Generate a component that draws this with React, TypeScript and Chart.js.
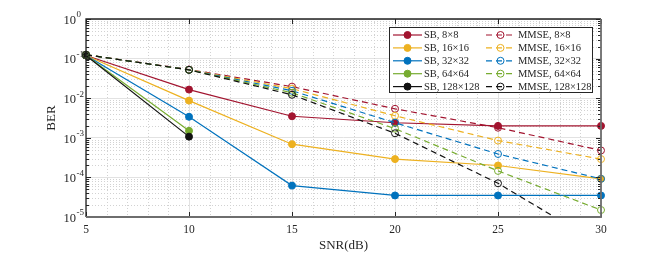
import React, { useEffect, useRef } from "react";
import { Chart, registerables } from "chart.js";
Chart.register(...registerables);

const snr = [5, 10, 15, 20, 25, 30];
const sb8 = [0.12, 0.0165, 0.0035, 0.0024, 0.002, 0.002];
const sb16 = [0.12, 0.0087, 0.00069, 0.00029, 0.0002, 0.000092];
const sb32 = [0.12, 0.0034, 0.000062, 0.000035, 0.000035, 0.000035];
const sb64 = [0.12, 0.0015];
const sb128 = [0.12, 0.00107];
const mmse8 = [0.125, 0.053, 0.0196, 0.0054, 0.0018, 0.00048];
const mmse16 = [0.125, 0.052, 0.0174, 0.0036, 0.00085, 0.00029];
const mmse32 = [0.125, 0.052, 0.0154, 0.0024, 0.00039, 0.000092];
const mmse64 = [0.125, 0.052, 0.0137, 0.0017, 0.000146, 0.000015];
const mmse128 = [0.125, 0.052, 0.0122, 0.0013, 0.000071, 0.000002];

const sbLabels = ["SB, 8×8", "SB, 16×16", "SB, 32×32", "SB, 64×64", "SB, 128×128"];
const mmseLabels = ["MMSE, 8×8", "MMSE, 16×16", "MMSE, 32×32", "MMSE, 64×64", "MMSE, 128×128"];
const colors = ["#A2142F", "#EDB120", "#0072BD", "#77AC30", "#111111"];
const xTicks = [5, 10, 15, 20, 25, 30];
const yDecades = [1e-5, 1e-4, 1e-3, 1e-2, 1e-1, 1];
const yExps = ["-5", "-4", "-3", "-2", "-1", "0"];

const SERIF = "'Liberation Serif', 'Times New Roman', serif";
const DASH = [6, 4];

function pts(vals: number[]) {
  return vals.map((v, j) => ({ x: snr[j], y: v }));
}

const decor = {
  id: "decor",
  beforeDatasetsDraw(chart: any) {
    const { ctx, chartArea: a, scales } = chart;
    const xs = scales.x;
    const ys = scales.y;
    ctx.save();
    ctx.strokeStyle = "#d2d2d2";
    ctx.lineWidth = 1;
    ctx.setLineDash([1, 2]);
    ctx.beginPath();
    for (let e = -5; e < 0; e++) {
      for (let k = 2; k <= 9; k++) {
        const y = Math.round(ys.getPixelForValue(k * Math.pow(10, e))) + 0.5;
        ctx.moveTo(a.left, y);
        ctx.lineTo(a.right, y);
      }
    }
    for (let x = 6; x < 30; x++) {
      if (x % 5 === 0) continue;
      const px = Math.round(xs.getPixelForValue(x)) + 0.5;
      ctx.moveTo(px, a.top);
      ctx.lineTo(px, a.bottom);
    }
    ctx.stroke();
    ctx.restore();
  },
  afterDraw(chart: any) {
    const { ctx, chartArea: a, scales } = chart;
    const xs = scales.x;
    const ys = scales.y;
    ctx.save();
    ctx.setLineDash([]);
    // inward ticks
    ctx.strokeStyle = "#262626";
    ctx.lineWidth = 1;
    ctx.beginPath();
    for (const v of yDecades) {
      const y = Math.round(ys.getPixelForValue(v)) + 0.5;
      ctx.moveTo(a.left, y);
      ctx.lineTo(a.left + 5, y);
      ctx.moveTo(a.right, y);
      ctx.lineTo(a.right - 5, y);
    }
    for (let e = -5; e < 0; e++) {
      for (let k = 2; k <= 9; k++) {
        const y = Math.round(ys.getPixelForValue(k * Math.pow(10, e))) + 0.5;
        ctx.moveTo(a.left, y);
        ctx.lineTo(a.left + 3, y);
        ctx.moveTo(a.right, y);
        ctx.lineTo(a.right - 3, y);
      }
    }
    for (const v of xTicks) {
      const x = Math.round(xs.getPixelForValue(v)) + 0.5;
      ctx.moveTo(x, a.bottom);
      ctx.lineTo(x, a.bottom - 5);
      ctx.moveTo(x, a.top);
      ctx.lineTo(x, a.top + 5);
    }
    ctx.stroke();
    // box
    ctx.lineWidth = 1.3;
    ctx.strokeStyle = "#222222";
    ctx.beginPath();
    ctx.moveTo(a.left, a.bottom);
    ctx.lineTo(a.left, a.top);
    ctx.lineTo(a.right, a.top);
    ctx.stroke();
    ctx.strokeStyle = "#6e6e6e";
    ctx.lineWidth = 1.8;
    ctx.beginPath();
    ctx.moveTo(a.left, a.bottom);
    ctx.lineTo(a.right, a.bottom);
    ctx.lineTo(a.right, a.top);
    ctx.stroke();
    // y tick labels with superscripts
    ctx.fillStyle = "#262626";
    yDecades.forEach((v, i) => {
      const y = ys.getPixelForValue(v);
      ctx.font = `12.5px ${SERIF}`;
      ctx.textAlign = "right";
      ctx.textBaseline = "middle";
      ctx.fillText("10", 76, y + 1.5);
      ctx.font = `9px ${SERIF}`;
      ctx.textAlign = "left";
      ctx.fillText(yExps[i], 76.5, y - 4);
    });
    // legend
    const bx = 389, by = 27, bw = 203, bh = 65;
    ctx.fillStyle = "#ffffff";
    ctx.fillRect(bx, by, bw, bh);
    ctx.strokeStyle = "#262626";
    ctx.lineWidth = 1;
    ctx.strokeRect(bx + 0.5, by + 0.5, bw, bh);
    const ds = chart.data.datasets;
    const cols = [
      { x0: 393, x1: 422, tx: 424 },
      { x0: 486, x1: 515, tx: 518 },
    ];
    for (let i = 0; i < 10; i++) {
      const d = ds[i];
      const col = cols[i < 5 ? 0 : 1];
      const row = i % 5;
      const y = 35 + row * 12.9;
      ctx.strokeStyle = d.borderColor;
      ctx.lineWidth = 1.2;
      ctx.setLineDash(d.borderDash || []);
      ctx.beginPath();
      ctx.moveTo(col.x0, y);
      ctx.lineTo(col.x1, y);
      ctx.stroke();
      ctx.setLineDash([]);
      const mx = (col.x0 + col.x1) / 2;
      ctx.beginPath();
      ctx.arc(mx, y, 3.5, 0, Math.PI * 2);
      if (i < 5) {
        ctx.fillStyle = d.borderColor;
        ctx.fill();
      }
      ctx.lineWidth = 1;
      ctx.stroke();
      ctx.fillStyle = "#262626";
      ctx.font = `10.5px ${SERIF}`;
      ctx.textAlign = "left";
      ctx.textBaseline = "middle";
      ctx.fillText(d.label, col.tx, y + 0.5);
    }
    ctx.restore();
  },
};

export default function App() {
  const ref = useRef<HTMLCanvasElement | null>(null);
  useEffect(() => {
    if (!ref.current) return;
    const sbSets = [sb8, sb16, sb32, sb64, sb128];
    const mmseSets = [mmse8, mmse16, mmse32, mmse64, mmse128];
    const clip = { left: 8, right: 8, top: 8, bottom: 0 };
    const datasets: any[] = [];
    sbSets.forEach((vals, i) => {
      datasets.push({
        label: sbLabels[i],
        data: pts(vals),
        borderColor: colors[i],
        backgroundColor: colors[i],
        pointBackgroundColor: colors[i],
        pointBorderColor: colors[i],
        pointRadius: 3.5,
        pointBorderWidth: 1,
        borderWidth: 1.2,
        tension: 0,
        clip,
        order: 20 - i,
      });
    });
    mmseSets.forEach((vals, i) => {
      datasets.push({
        label: mmseLabels[i],
        data: pts(vals),
        borderColor: colors[i],
        backgroundColor: "rgba(0,0,0,0)",
        pointBackgroundColor: "rgba(0,0,0,0)",
        pointBorderColor: colors[i],
        pointRadius: 3.5,
        pointBorderWidth: 1,
        borderWidth: 1.2,
        borderDash: DASH,
        tension: 0,
        clip,
        order: 10 - i,
      });
    });
    const chart = new Chart(ref.current, {
      type: "line",
      data: { datasets },
      options: {
        animation: false,
        responsive: false,
        devicePixelRatio: 1,
        layout: { padding: { top: 19, right: 64, left: 0, bottom: 0 } },
        plugins: { legend: { display: false }, tooltip: { enabled: false } },
        scales: {
          x: {
            type: "linear",
            min: 5,
            max: 30,
            afterBuildTicks: (s: any) => {
              s.ticks = xTicks.map((v) => ({ value: v }));
            },
            afterFit: (s: any) => {
              s.height = 36;
            },
            ticks: {
              color: "#262626",
              padding: 6,
              font: { family: SERIF, size: 11.5 },
            },
            grid: { color: "#e2e2e2", lineWidth: 1, drawTicks: false },
            border: { display: false },
            title: {
              display: true,
              text: "SNR(dB)",
              color: "#262626",
              font: { family: SERIF, size: 13 },
              padding: { top: 0, bottom: 0 },
            },
          },
          y: {
            type: "logarithmic",
            min: 1e-5,
            max: 1,
            afterBuildTicks: (s: any) => {
              s.ticks = yDecades.map((v) => ({ value: v }));
            },
            afterFit: (s: any) => {
              s.width = 86;
            },
            ticks: { display: false },
            grid: { color: "#e2e2e2", lineWidth: 1, drawTicks: false },
            border: { display: false },
            title: {
              display: true,
              text: "BER",
              color: "#262626",
              font: { family: SERIF, size: 13 },
              padding: { top: 44, bottom: 0 },
            },
          },
        },
      } as any,
      plugins: [decor],
    });
    return () => chart.destroy();
  }, []);
  return (
    <div style={{ position: "fixed", left: 0, top: 0, width: 665, height: 253, background: "#fff" }}>
      <canvas ref={ref} width={665} height={253} style={{ display: "block" }} />
    </div>
  );
}
